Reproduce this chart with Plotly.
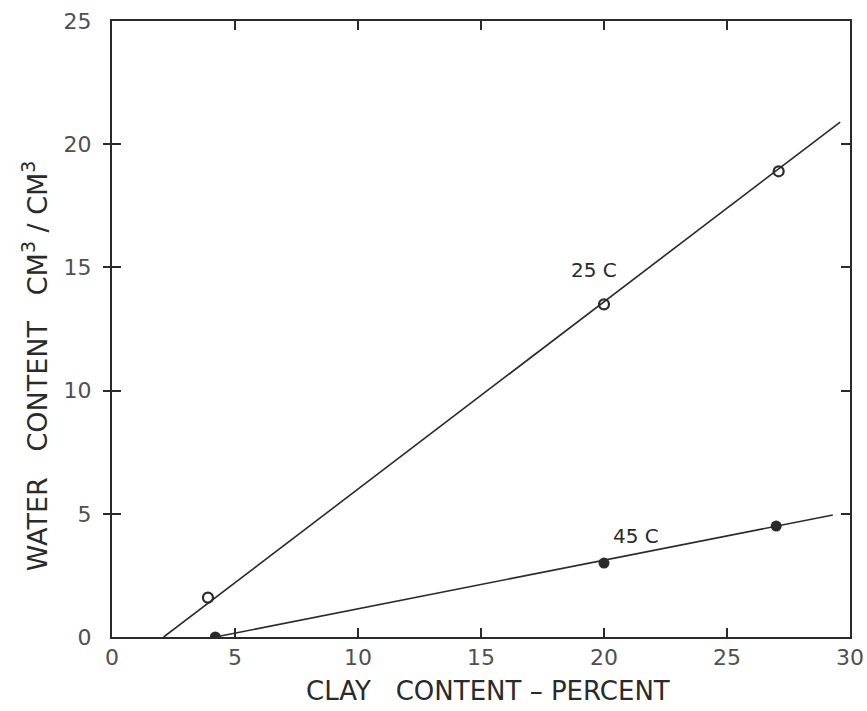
import plotly.graph_objects as go

# Data
x_25 = [3.9, 20.0, 27.1]
y_25 = [1.6, 13.5, 18.9]
x_25_fit = [2.1, 29.6]
y_25_fit = [0.0, 20.9]

x_45 = [4.2, 20.0, 27.0]
y_45 = [0.0, 3.0, 4.5]
x_45_fit = [4.2, 29.3]
y_45_fit = [0.0, 4.95]

x_ticks = [0, 5, 10, 15, 20, 25, 30]
y_ticks = [0, 5, 10, 15, 20, 25]

FONT = "DejaVu Sans"
INK = "#2a2a2a"
TICKINK = "#505050"

fig = go.Figure()
fig.add_trace(go.Scatter(x=x_25_fit, y=y_25_fit, mode="lines",
                         line=dict(color=INK, width=1.6), showlegend=False))
fig.add_trace(go.Scatter(x=x_45_fit, y=y_45_fit, mode="lines",
                         line=dict(color=INK, width=1.6), showlegend=False))
fig.add_trace(go.Scatter(x=x_25, y=y_25, mode="markers",
                         marker=dict(symbol="circle-open", size=10, color=INK,
                                     line=dict(width=2.2, color=INK)),
                         showlegend=False))
fig.add_trace(go.Scatter(x=x_45, y=y_45, mode="markers",
                         marker=dict(symbol="circle", size=11, color=INK),
                         showlegend=False))
# overlay axis to produce crossing ticks on the left
fig.add_trace(go.Scatter(x=[None], y=[None], yaxis="y2", showlegend=False))

fig.add_annotation(x=19.6, y=14.9, text="25 C", showarrow=False,
                   font=dict(family=FONT, size=20, color=INK))
fig.add_annotation(x=21.3, y=4.1, text="45 C", showarrow=False,
                   font=dict(family=FONT, size=20, color=INK))

fig.add_annotation(xref="paper", yref="paper", x=-0.104, y=0.44,
                   xanchor="center", yanchor="middle",
                   text="WATER   CONTENT   CM<sup>3</sup> / CM<sup>3</sup>",
                   textangle=-90, showarrow=False,
                   font=dict(family=FONT, size=27, color=INK))

fig.add_annotation(xref="paper", yref="paper", x=0.51, y=-0.088,
                   xanchor="center", yanchor="middle",
                   text="CLAY   CONTENT – PERCENT", showarrow=False,
                   font=dict(family=FONT, size=26, color=INK))

fig.update_layout(
    width=867, height=711,
    margin=dict(l=112, r=17, t=21, b=74, autoexpand=False),
    paper_bgcolor="white", plot_bgcolor="white",
    font=dict(family=FONT, color=INK),
    xaxis=dict(range=[0, 30], tickvals=x_ticks, ticktext=[str(v) for v in x_ticks],
               ticks="inside", ticklen=9, tickwidth=1.5, tickcolor=INK,
               showline=True, linewidth=2, linecolor=INK, mirror="ticks",
               showgrid=False, zeroline=False, automargin=False,
               tickfont=dict(family=FONT, size=22, color=TICKINK)),
    yaxis=dict(range=[0, 25], tickvals=y_ticks, ticktext=[str(v) for v in y_ticks],
               ticks="inside", ticklen=9, tickwidth=1.5, tickcolor=INK,
               showline=True, linewidth=2, linecolor=INK, mirror="ticks",
               showgrid=False, zeroline=False, ticklabelstandoff=14, automargin=False,
               tickfont=dict(family=FONT, size=22, color=TICKINK)),
    yaxis2=dict(range=[0, 25], overlaying="y", side="left", tickvals=y_ticks[1:-1],
                ticks="outside", ticklen=8, tickwidth=1.5, tickcolor=INK, automargin=False,
                showticklabels=False, showgrid=False, zeroline=False, showline=False),
)

fig.write_html("out.html")
